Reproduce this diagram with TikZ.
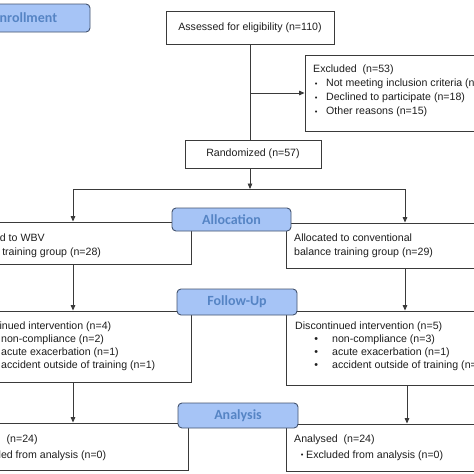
\documentclass[tikz,border=0pt]{standalone}
\usepackage{fontspec}
\setmainfont{Liberation Sans}
\newfontfamily\titlefont{Carlito}
\usetikzlibrary{arrows.meta}
\definecolor{tfill}{HTML}{A6C4F6}
\definecolor{tdraw}{HTML}{44546F}
\definecolor{ttext}{HTML}{5584C4}
\definecolor{bdraw}{HTML}{3A3A3A}
\definecolor{btext}{HTML}{1E1E1E}
\newcommand{\smallbul}{\raisebox{0.3pt}{\fontsize{7.5}{8}\selectfont •}}
\begin{document}
\begin{tikzpicture}[x=1pt,y=-1pt,
  box/.style={draw=bdraw,line width=0.9pt,fill=white,inner sep=0pt,text=btext,
    font=\fontsize{10.6}{12}\selectfont},
  titlebox/.style={draw=tdraw,fill=tfill,line width=0.9pt,rounded corners=4pt,inner sep=0pt,
    font=\titlefont\bfseries\fontsize{14}{16}\selectfont,text=ttext},
  txt/.style={inner sep=0pt,anchor=base west,align=left,text=btext,
    font=\fontsize{10.6}{#1}\selectfont},
  conn/.style={draw=bdraw,line width=0.9pt},
  arr/.style={conn,-{Triangle[length=5.5pt,width=4.6pt]}}]
\useasboundingbox (0,0) rectangle (474,474);
\fill[white] (0,0) rectangle (474,474);

% main boxes
\node[box,minimum width=168pt,minimum height=33pt] (assess) at (250,27.5) {Assessed for eligibility (n=110)};
\node[box,minimum width=235pt,minimum height=76pt] (excl) at (422.5,93) {};
\node[box,minimum width=136pt,minimum height=28pt] (rand) at (253,154) {Randomized (n=57)};
\node[box,minimum width=251pt,minimum height=42pt] (allocL) at (65.5,243) {};
\node[box,minimum width=254pt,minimum height=45pt] (allocR) at (413,245.5) {};
\node[box,minimum width=251pt,minimum height=71pt] (followL) at (65.5,346.5) {};
\node[box,minimum width=254pt,minimum height=74pt] (followR) at (413,348) {};
\node[box,minimum width=248pt,minimum height=47pt] (anaL) at (64,446.5) {};
\node[box,minimum width=254pt,minimum height=47pt] (anaR) at (413,447.5) {};

% texts (base anchor = baseline of the last line)
\node[txt=13.9] (exclT) at (313,114.5) {Excluded~~(n=53)\\
  \makebox[6pt][c]{\smallbul}\hspace{7pt}Not meeting inclusion criteria (n=20)\\
  \makebox[6pt][c]{\smallbul}\hspace{7pt}Declined to participate (n=18)\\
  \makebox[6pt][c]{\smallbul}\hspace{7pt}Other reasons (n=15)};
\node[txt=14] (allocLT) at (-38,255.6) {Allocated to WBV\\balance training group (n=28)};
\node[txt=14] (allocRT) at (294,255.8) {Allocated to conventional\\balance training group (n=29)};
\node[txt=12.9] (followLT) at (-36,368.2) {Discontinued intervention (n=4)\\
  \hspace*{17pt}\makebox[8pt][c]{•}\hspace{12pt}non-compliance (n=2)\\
  \hspace*{17pt}\makebox[8pt][c]{•}\hspace{12pt}acute exacerbation (n=1)\\
  \hspace*{17pt}\makebox[8pt][c]{•}\hspace{12pt}accident outside of training (n=1)};
\node[txt=12.9] (followRT) at (295,368.2) {Discontinued intervention (n=5)\\
  \hspace*{17pt}\makebox[8pt][c]{•}\hspace{12pt}non-compliance (n=3)\\
  \hspace*{17pt}\makebox[8pt][c]{•}\hspace{12pt}acute exacerbation (n=1)\\
  \hspace*{17pt}\makebox[8pt][c]{•}\hspace{12pt}accident outside of training (n=1)};
\node[txt=16] (anaLT) at (-43,458) {Analysed~~(n=24)\\
  \hspace*{6pt}\makebox[4pt][c]{\smallbul}\hspace{2pt}Excluded from analysis (n=0)};
\node[txt=16] (anaRT) at (294,458) {Analysed~~(n=24)\\
  \hspace*{6pt}\makebox[4pt][c]{\smallbul}\hspace{2pt}Excluded from analysis (n=0)};

% connectors
\coordinate (exbr) at (assess.south |- excl.west);
\coordinate (split) at (250,189);
\coordinate (splitL) at (73,189);
\coordinate (splitR) at (405,189);
\coordinate (colR2) at (407,0);
\draw[conn] (assess.south) -- (assess.south |- rand.north);
\draw[arr] (exbr) -- (excl.west);
\draw[arr] (assess.south |- rand.south) -- (split);
\draw[conn] (splitL) -- (splitR);
\draw[arr] (splitL) -- (splitL |- allocL.north);
\draw[arr] (splitR) -- (splitR |- allocR.north);
\draw[arr] (splitL |- allocL.south) -- (splitL |- followL.north);
\draw[arr] (splitR |- allocR.south) -- (splitR |- followR.north);
\draw[arr] (splitL |- followL.south) -- (splitL |- anaL.north);
\draw[arr] (colR2 |- followR.south) -- (colR2 |- anaR.north);

% phase title boxes
\node[titlebox,minimum width=130pt,minimum height=28pt] (enroll) at (25,18) {Enrollment};
\node[titlebox,minimum width=119pt,minimum height=23pt] (allocation) at (231.5,219.5) {Allocation};
\node[titlebox,minimum width=120pt,minimum height=26pt] (followup) at (237,302) {Follow-Up};
\node[titlebox,minimum width=120pt,minimum height=25pt] (analysis) at (238,415.5) {Analysis};
\end{tikzpicture}
\end{document}
